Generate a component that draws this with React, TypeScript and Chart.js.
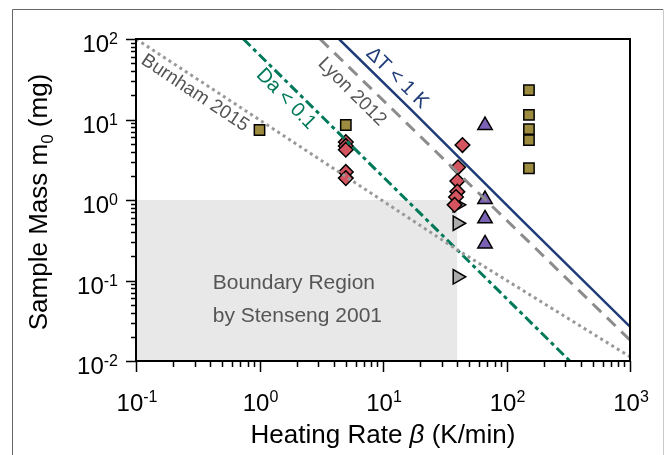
import React, { useEffect, useRef } from "react";
import { Chart, registerables } from "chart.js";
Chart.register(...registerables);

// ---- tick labels ----
const xTickValues = [0.1, 1, 10, 100, 1000];
const xTickExps = ["-1", "0", "1", "2", "3"];
const yTickValues = [0.01, 0.1, 1, 10, 100];
const yTickExps = ["-2", "-1", "0", "1", "2"];

// ---- markers ----
const squareX = [1, 5, 152, 152, 152, 152, 152];
const squareY = [7.4, 8.55, 23.2, 11.4, 7.6, 5.55, 2.48];
const diamondX = [5, 5, 5, 5, 5, 44, 40.5, 40, 40, 39, 38];
const diamondY = [5.25, 4.69, 4.22, 2.23, 1.87, 4.82, 2.55, 1.72, 1.27, 1.09, 0.87];
const triUpX = [67, 67, 67, 67];
const triUpY = [8.47, 1.02, 0.586, 0.286];
const triRightX = [40, 40, 40];
const triRightY = [0.87, 0.514, 0.111];

// ---- criterion lines ----
const deltaTX = [4.4, 17, 137, 1000];
const deltaTY = [100, 13.1, 0.537, 0.0267];
const lyonX = [3.09, 1000];
const lyonY = [100, 0.0182];
const daX = [0.74, 326];
const daY = [100, 0.01];
const burnhamX = [0.1, 1, 40, 1000];
const burnhamY = [100, 9.9, 0.24, 0.0113];

// ---- boundary region ----
const regionX = [0.1, 40];
const regionY = [1, 1];

const NAVY = "#1f3c78";
const GREEN = "#00795a";
const FONT = "'Liberation Sans', Arial, sans-serif";

const lineLabels = [
  { text: "ΔT < 1 K", x: 13.0, y: 32.8, angle: 44.5, color: NAVY, size: 20 },
  { text: "Lyon 2012", x: 5.61, y: 22.0, angle: 45, color: "#555555", size: 19 },
  { text: "Da < 0.1", x: 1.64, y: 18.0, angle: 46, color: GREEN, size: 20 },
  { text: "Burnham 2015", x: 0.3, y: 21.3, angle: 33.5, color: "#555555", size: 19 },
];
const regionLabels = [
  { text: "Boundary Region", x: 0.418, y: 0.0783 },
  { text: "by Stenseng 2001", x: 0.418, y: 0.0308 },
];

const pts = (xs: number[], ys: number[]) => xs.map((x, i) => ({ x, y: ys[i] }));

const decor = {
  id: "decor",
  afterDatasetsDraw(chart: any) {
    const { ctx, chartArea: a, scales } = chart;
    const xs = scales.x;
    const ys = scales.y;
    ctx.save();

    // region labels
    ctx.fillStyle = "#555555";
    ctx.font = `21px ${FONT}`;
    ctx.textAlign = "left";
    ctx.textBaseline = "alphabetic";
    regionLabels.forEach((l) => {
      ctx.fillText(l.text, xs.getPixelForValue(l.x), ys.getPixelForValue(l.y));
    });

    // line labels
    lineLabels.forEach((l) => {
      ctx.save();
      ctx.translate(xs.getPixelForValue(l.x), ys.getPixelForValue(l.y));
      ctx.rotate((l.angle * Math.PI) / 180);
      ctx.fillStyle = l.color;
      ctx.font = `${l.size}px ${FONT}`;
      ctx.textAlign = "center";
      ctx.textBaseline = "middle";
      ctx.fillText(l.text, 0, 0);
      ctx.restore();
    });

    // box
    ctx.strokeStyle = "#000";
    ctx.lineWidth = 2;
    ctx.strokeRect(a.left, a.top, a.right - a.left, a.bottom - a.top);

    // ticks
    ctx.lineWidth = 1.5;
    ctx.beginPath();
    for (let e = -1; e <= 3; e++) {
      for (let m = 1; m <= 9; m++) {
        const v = m * Math.pow(10, e);
        if (v > 1000.0001) break;
        const px = Math.round(xs.getPixelForValue(v)) + 0.5;
        ctx.moveTo(px, a.bottom);
        ctx.lineTo(px, a.bottom + (m === 1 ? 11 : 6));
      }
    }
    for (let e = -2; e <= 2; e++) {
      for (let m = 1; m <= 9; m++) {
        const v = m * Math.pow(10, e);
        if (v > 100.0001) break;
        const py = Math.round(ys.getPixelForValue(v)) + 0.5;
        ctx.moveTo(a.left, py);
        ctx.lineTo(a.left - (m === 1 ? 10 : 5), py);
      }
    }
    ctx.stroke();

    // tick labels
    ctx.fillStyle = "#000";
    ctx.textBaseline = "alphabetic";
    ctx.textAlign = "left";
    const baseFont = `24px ${FONT}`;
    const supFont = `16px ${FONT}`;
    yTickValues.forEach((v, i) => {
      const py = ys.getPixelForValue(v);
      ctx.font = supFont;
      const ws = ctx.measureText(yTickExps[i]).width;
      ctx.font = baseFont;
      const wb = ctx.measureText("10").width;
      const right = 118;
      ctx.fillText("10", right - ws - wb, py + 13);
      ctx.font = supFont;
      ctx.fillText(yTickExps[i], right - ws, py + 5);
    });
    xTickValues.forEach((v, i) => {
      const px = xs.getPixelForValue(v);
      ctx.font = supFont;
      const ws = ctx.measureText(xTickExps[i]).width;
      ctx.font = baseFont;
      const wb = ctx.measureText("10").width;
      const left = px - (ws + wb) / 2 + 1;
      ctx.fillText("10", left, 411);
      ctx.font = supFont;
      ctx.fillText(xTickExps[i], left + wb, 402);
    });

    // x title
    const tf = `26px ${FONT}`;
    const tfi = `italic 26px ${FONT}`;
    const parts = [
      { t: "Heating Rate ", f: tf },
      { t: "β", f: tfi },
      { t: " (K/min)", f: tf },
    ];
    let total = 0;
    parts.forEach((p) => {
      ctx.font = p.f;
      total += ctx.measureText(p.t).width;
    });
    let cx = (a.left + a.right) / 2 - total / 2;
    parts.forEach((p) => {
      ctx.font = p.f;
      ctx.fillText(p.t, cx, 443);
      cx += ctx.measureText(p.t).width;
    });

    // y title
    ctx.save();
    ctx.translate(47, 202);
    ctx.rotate(-Math.PI / 2);
    const yparts = [
      { t: "Sample Mass m", f: tf, dy: 0 },
      { t: "0", f: `17px ${FONT}`, dy: 6 },
      { t: " (mg)", f: tf, dy: 0 },
    ];
    let ytotal = 0;
    yparts.forEach((p) => {
      ctx.font = p.f;
      ytotal += ctx.measureText(p.t).width;
    });
    let yx = -ytotal / 2;
    yparts.forEach((p) => {
      ctx.font = p.f;
      ctx.fillText(p.t, yx, p.dy);
      yx += ctx.measureText(p.t).width;
    });
    ctx.restore();

    // outer frame
    ctx.lineWidth = 1;
    ctx.strokeStyle = "#666";
    ctx.beginPath();
    ctx.moveTo(12.5, 455);
    ctx.lineTo(12.5, 9.5);
    ctx.lineTo(663, 9.5);
    ctx.stroke();
    ctx.strokeStyle = "#c8c8c8";
    ctx.beginPath();
    ctx.moveTo(663.5, 9.5);
    ctx.lineTo(663.5, 455);
    ctx.stroke();

    ctx.restore();
  },
};

export default function App() {
  const ref = useRef<HTMLCanvasElement | null>(null);
  useEffect(() => {
    if (!ref.current) return;
    const marker = (color: string, style: string, r: number, rot = 0) => ({
      backgroundColor: color,
      borderColor: "#000",
      borderWidth: 1.5,
      pointStyle: style,
      pointRadius: r,
      rotation: rot,
      showLine: false,
      order: 5,
    });
    const line = (color: string, dash: number[], width: number) => ({
      borderColor: color,
      borderWidth: width,
      borderDash: dash,
      pointRadius: 0,
      showLine: true,
      fill: false,
      order: 1,
    });
    const chart = new Chart(ref.current, {
      type: "scatter",
      data: {
        datasets: [
          {
            data: pts(regionX, regionY),
            showLine: true,
            borderWidth: 0,
            borderColor: "rgba(0,0,0,0)",
            backgroundColor: "#e8e8e8",
            fill: "start",
            pointRadius: 0,
            order: 10,
          } as any,
          { data: pts(squareX, squareY), ...marker("#9d8b3f", "rect", 7.3) } as any,
          { data: pts(diamondX, diamondY), ...marker("#d4555f", "rectRot", 7.3) } as any,
          { data: pts(triRightX, triRightY), ...marker("#aaaaaa", "triangle", 8.3, 90) } as any,
          { data: pts(triUpX, triUpY), ...marker("#7c62b4", "triangle", 8.3) } as any,
          { data: pts(burnhamX, burnhamY), ...line("#999999", [3, 3.5], 3) } as any,
          { data: pts(daX, daY), ...line(GREEN, [10, 4, 4, 4], 3) } as any,
          { data: pts(lyonX, lyonY), ...line("#8c8c8c", [12, 8], 3) } as any,
          { data: pts(deltaTX, deltaTY), ...line(NAVY, [], 2.5) } as any,
        ],
      },
      options: {
        animation: false,
        responsive: false,
        events: [],
        layout: { padding: { top: 39, right: 38, left: 0, bottom: 0 } },
        plugins: { legend: { display: false }, tooltip: { enabled: false } },
        scales: {
          x: {
            type: "logarithmic",
            min: 0.1,
            max: 1000,
            grid: { display: false },
            border: { display: false },
            ticks: { display: false },
            afterFit: (s: any) => {
              s.height = 94;
            },
          },
          y: {
            type: "logarithmic",
            min: 0.01,
            max: 100,
            grid: { display: false },
            border: { display: false },
            ticks: { display: false },
            afterFit: (s: any) => {
              s.width = 136;
            },
          },
        },
      } as any,
      plugins: [decor],
    });
    return () => chart.destroy();
  }, []);
  return (
    <div style={{ position: "fixed", left: 0, top: 0, width: 668, height: 455, background: "#fff" }}>
      <canvas ref={ref} width={668} height={455} />
    </div>
  );
}
